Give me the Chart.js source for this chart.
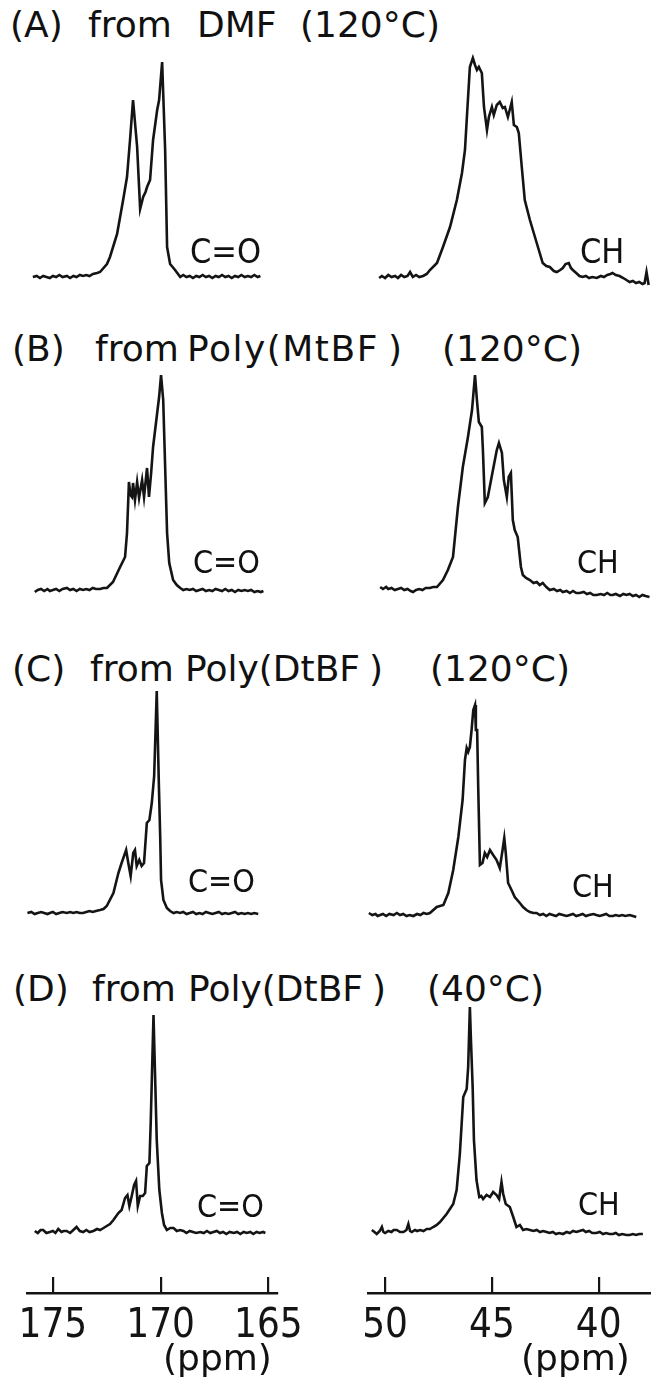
<!DOCTYPE html>
<html>
<head>
<meta charset="utf-8">
<title>13C NMR spectra, C=O and CH regions</title>
<script src="https://cdn.jsdelivr.net/npm/chart.js@4.4.1/dist/chart.umd.min.js"></script>
<style>
  html, body { margin: 0; padding: 0; background: #fff; }
  #page { position: relative; width: 651px; height: 1394px; overflow: hidden;
          font-family: "DejaVu Sans", sans-serif; color: #111; }
  canvas { position: absolute; }
  .t { position: absolute; font-size: 36px; line-height: 36px; white-space: pre; }
  .lab { position: absolute; font-family: "DejaVu Sans Condensed", "DejaVu Sans", sans-serif;
         font-size: 32px; line-height: 32px; white-space: pre; }
  .unit { position: absolute; font-size: 36px; line-height: 36px; white-space: pre; }
  .gap { margin-left: 9px; }
</style>
</head>
<body>
<div id="page">
  <!-- row titles -->
  <div class="t" style="left:10px;top:7px">(A)</div>
  <div class="t" style="left:88px;top:7px">from</div>
  <div class="t" style="left:197px;top:7px">DMF</div>
  <div class="t" style="left:300px;top:7px">(120°C)</div>

  <div class="t" style="left:12px;top:331px">(B)</div>
  <div class="t" style="left:95px;top:331px">from</div>
  <div class="t" style="left:187px;top:331px;letter-spacing:1.5px">Poly(MtBF<span class="gap">)</span></div>
  <div class="t" style="left:442px;top:331px">(120°C)</div>

  <div class="t" style="left:12px;top:651px">(C)</div>
  <div class="t" style="left:90px;top:651px">from</div>
  <div class="t" style="left:185px;top:651px">Poly(DtBF<span class="gap">)</span></div>
  <div class="t" style="left:430px;top:651px">(120°C)</div>

  <div class="t" style="left:13px;top:971px">(D)</div>
  <div class="t" style="left:92px;top:971px">from</div>
  <div class="t" style="left:188px;top:971px">Poly(DtBF<span class="gap">)</span></div>
  <div class="t" style="left:427px;top:971px">(40°C)</div>

  <!-- spectra, one chart per panel -->
  <canvas id="aCO" width="250" height="244" style="left:27px;top:45px"></canvas>
  <canvas id="aCH" width="283" height="244" style="left:368px;top:46px"></canvas>
  <canvas id="bCO" width="250" height="244" style="left:27px;top:358px"></canvas>
  <canvas id="bCH" width="283" height="244" style="left:368px;top:356px"></canvas>
  <canvas id="cCO" width="250" height="244" style="left:27px;top:681px"></canvas>
  <canvas id="cCH" width="283" height="244" style="left:368px;top:683px"></canvas>
  <canvas id="dCO" width="250" height="244" style="left:27px;top:1001px"></canvas>
  <canvas id="dCH" width="283" height="244" style="left:368px;top:1000px"></canvas>

  <!-- peak labels -->
  <div class="lab" style="left:190px;top:234px;font-size:34px;line-height:34px">C=O</div>
  <div class="lab" style="left:580px;top:234px;font-size:34px;line-height:34px">CH</div>
  <div class="lab" style="left:193px;top:546px">C=O</div>
  <div class="lab" style="left:577px;top:546px">CH</div>
  <div class="lab" style="left:188px;top:865px">C=O</div>
  <div class="lab" style="left:572px;top:870px">CH</div>
  <div class="lab" style="left:197px;top:1190px">C=O</div>
  <div class="lab" style="left:578px;top:1188px">CH</div>

  <!-- ppm axes -->
  <canvas id="axisCO" width="330" height="111" style="left:0px;top:1270px"></canvas>
  <canvas id="axisCH" width="321" height="111" style="left:330px;top:1270px"></canvas>
  <div class="unit" style="left:163px;top:1340px">(ppm)</div>
  <div class="unit" style="left:521px;top:1340px">(ppm)</div>
</div>

<script>
// ppm ranges shown in each column (the scale runs right to left)
const rangeCO = [164.6, 176.2];
const rangeCH = [37.55, 50.8];
// tick labels of the two ppm axes
const ticksCO = [175, 170, 165];
const ticksCH = [50, 45, 40];

// [ppm, intensity], intensity in arbitrary units above baseline
const traceA_CO = [[175.93,0],[175.75,1],[175.6,-1],[175.45,1],[175.3,0],[175.14,-1],[175.0,1],[174.85,0],[174.7,2],[174.55,0],[174.35,1],[174.2,-1],[174.05,1],[173.9,0],[173.75,2],[173.6,1],[173.45,2],[173.3,1],[173.14,3],[172.95,4],[172.81,5],[172.49,13],[172.35,20],[172.02,43],[171.74,77],[171.56,100],[171.42,137],[171.28,177],[171.09,130],[170.95,68],[170.81,80],[170.7,85],[170.63,90],[170.49,97],[170.35,137],[170.16,167],[170.07,177],[169.93,215],[169.79,127],[169.70,30],[169.56,13],[169.33,7],[169.09,0],[168.95,2],[168.8,0],[168.65,1],[168.5,-1],[168.35,1],[168.2,0],[168.05,2],[167.9,0],[167.75,1],[167.6,-1],[167.45,1],[167.3,0],[167.15,2],[167.0,0],[166.85,1],[166.7,-1],[166.55,1],[166.4,0],[166.25,2],[166.1,0],[165.95,1],[165.8,0],[165.65,2],[165.5,0],[165.37,1]];
const traceA_CH = [[50.28,0],[50.15,2],[50.0,0],[49.85,3],[49.7,1],[49.53,2],[49.4,0],[49.25,3],[49.1,1],[48.95,2],[48.83,6],[48.7,1],[48.55,3],[48.4,1],[48.22,2],[48.05,4],[47.90,8],[47.57,15],[47.29,31],[46.96,51],[46.64,78],[46.40,105],[46.26,128],[46.17,161],[46.03,211],[45.89,220],[45.79,213],[45.70,208],[45.61,211],[45.47,205],[45.37,171],[45.23,148],[45.14,161],[45.00,171],[44.91,163],[44.77,173],[44.63,176],[44.49,170],[44.39,171],[44.25,161],[44.07,176],[43.97,153],[43.83,151],[43.74,145],[43.60,111],[43.46,78],[43.22,58],[42.90,35],[42.62,15],[42.45,12],[42.29,11],[42.1,7],[41.96,6],[41.8,8],[41.68,10],[41.55,14],[41.40,15],[41.3,10],[41.21,8],[41.0,4],[40.9,2],[40.75,1],[40.6,2],[40.45,0],[40.3,1],[40.09,0],[39.9,2],[39.75,1],[39.6,3],[39.45,4],[39.35,5],[39.2,3],[39.02,2],[38.85,0],[38.7,-2],[38.55,-4],[38.4,-3],[38.25,-5],[38.1,-4],[37.95,-6],[37.85,-5],[37.76,6],[37.66,-7]];
const traceB_CO = [[175.84,-2],[175.7,0],[175.55,1],[175.4,-1],[175.25,1],[175.14,-1],[175.0,0],[174.85,1],[174.7,-1],[174.55,1],[174.35,2],[174.2,0],[174.05,1],[173.9,-1],[173.75,1],[173.6,0],[173.45,1],[173.3,0],[173.15,2],[173.0,1],[172.81,1],[172.65,2],[172.49,2],[172.21,8],[171.88,23],[171.65,33],[171.56,57],[171.47,108],[171.40,95],[171.33,93],[171.28,107],[171.19,90],[171.09,108],[171.00,92],[170.86,110],[170.77,93],[170.63,122],[170.54,93],[170.44,117],[170.35,143],[170.16,177],[170.07,193],[169.98,215],[169.88,190],[169.79,123],[169.70,57],[169.60,27],[169.42,10],[169.25,5],[169.09,2],[168.95,0],[168.8,1],[168.65,0],[168.5,1],[168.35,-1],[168.2,0],[168.05,1],[167.9,-1],[167.75,0],[167.6,-1],[167.45,1],[167.3,0],[167.15,-1],[167.0,1],[166.85,-1],[166.7,0],[166.55,-2],[166.4,0],[166.25,-1],[166.1,0],[165.95,-1],[165.8,0],[165.65,-2],[165.5,-1],[165.35,-2],[165.23,-1]];
const traceB_CH = [[50.23,1],[50.1,-1],[49.95,1],[49.85,-1],[49.7,0],[49.55,-2],[49.4,-1],[49.25,0],[49.1,-2],[48.95,-1],[48.8,-3],[48.69,-4],[48.55,-2],[48.4,-1],[48.25,-2],[48.1,0],[47.90,0],[47.75,1],[47.57,1],[47.29,8],[47.06,18],[46.82,31],[46.59,81],[46.36,121],[46.12,151],[45.93,178],[45.79,213],[45.70,188],[45.61,166],[45.47,161],[45.42,138],[45.33,85],[45.19,91],[44.95,118],[44.77,138],[44.67,145],[44.53,135],[44.44,108],[44.30,91],[44.21,111],[44.11,115],[44.02,68],[43.93,58],[43.79,51],[43.64,21],[43.55,13],[43.4,10],[43.22,8],[43.05,5],[42.9,6],[42.76,3],[42.62,5],[42.45,1],[42.29,-2],[42.1,-1],[41.95,-3],[41.8,-2],[41.68,-4],[41.5,-3],[41.35,-5],[41.2,-3],[41.05,-5],[40.89,-5],[40.7,-4],[40.55,-6],[40.4,-5],[40.25,-7],[40.09,-7],[39.9,-6],[39.75,-7],[39.6,-5],[39.45,-7],[39.35,-7],[39.2,-6],[39.0,-8],[38.85,-6],[38.7,-7],[38.55,-6],[38.4,-8],[38.25,-7],[38.1,-9],[37.95,-7],[37.8,-8],[37.62,-9]];
const traceC_CO = [[176.18,0],[176.0,1],[175.85,-1],[175.7,0],[175.55,1],[175.4,0],[175.25,-1],[175.14,0],[175.0,1],[174.85,-1],[174.7,0],[174.55,1],[174.35,0],[174.2,1],[174.05,0],[173.9,1],[173.75,0],[173.6,0],[173.45,1],[173.3,2],[173.15,1],[173.0,2],[172.81,3],[172.65,4],[172.50,7],[172.19,20],[171.96,40],[171.81,50],[171.60,63],[171.50,50],[171.39,37],[171.27,60],[171.19,63],[171.11,47],[170.99,53],[170.88,47],[170.77,50],[170.64,90],[170.52,93],[170.41,110],[170.30,137],[170.22,193],[170.18,222],[170.08,127],[170.02,77],[169.98,33],[169.87,13],[169.71,5],[169.56,2],[169.4,0],[169.25,1],[169.1,0],[168.95,1],[168.8,-1],[168.65,0],[168.5,1],[168.35,-1],[168.2,0],[168.05,-1],[167.9,1],[167.75,0],[167.6,-1],[167.45,0],[167.3,1],[167.15,-1],[167.0,0],[166.85,-1],[166.7,0],[166.55,1],[166.4,-1],[166.25,0],[166.1,-1],[165.95,0],[165.8,-1],[165.65,0],[165.47,-1]];
const traceC_CH = [[50.76,2],[50.6,0],[50.45,1],[50.35,-1],[50.23,0],[50.1,1],[49.95,-1],[49.8,1],[49.6,0],[49.45,2],[49.3,0],[49.15,1],[49.0,-1],[48.85,0],[48.68,-1],[48.5,1],[48.35,0],[48.2,2],[48.05,1],[47.90,2],[47.58,8],[47.27,10],[47.04,22],[46.81,45],[46.57,78],[46.37,115],[46.26,155],[46.18,167],[46.11,163],[46.03,168],[45.95,185],[45.87,205],[45.79,210],[45.75,185],[45.69,185],[45.64,128],[45.56,50],[45.44,52],[45.33,62],[45.22,58],[45.09,65],[44.94,60],[44.78,55],[44.63,47],[44.50,65],[44.42,77],[44.35,62],[44.24,32],[44.08,25],[43.93,18],[43.69,12],[43.54,8],[43.38,5],[43.22,3],[43.05,2],[42.91,2],[42.75,0],[42.6,1],[42.45,-1],[42.3,1],[42.15,0],[42.0,-1],[41.85,1],[41.67,0],[41.5,-1],[41.35,0],[41.2,1],[41.05,-1],[40.89,0],[40.75,1],[40.6,-1],[40.45,0],[40.25,1],[40.11,0],[39.95,-1],[39.8,0],[39.65,1],[39.5,-1],[39.33,-1],[39.2,0],[39.05,-1],[38.9,0],[38.75,-1],[38.55,0],[38.4,-1],[38.24,-2]];
const traceD_CO = [[175.84,2],[175.7,0],[175.57,3],[175.45,3],[175.3,0],[175.14,1],[175.0,2],[174.88,0],[174.75,4],[174.6,1],[174.5,2],[174.36,2],[174.2,0],[174.05,3],[173.9,6],[173.75,2],[173.59,1],[173.45,3],[173.3,1],[173.12,2],[172.95,4],[172.81,3],[172.65,5],[172.50,7],[172.35,9],[172.19,13],[171.96,20],[171.81,23],[171.65,35],[171.54,38],[171.45,27],[171.34,37],[171.23,48],[171.14,52],[171.06,27],[170.95,37],[170.83,37],[170.72,40],[170.64,67],[170.52,70],[170.46,110],[170.40,160],[170.33,218],[170.26,160],[170.18,93],[170.06,43],[169.94,20],[169.84,8],[169.71,3],[169.55,5],[169.40,5],[169.25,2],[169.1,3],[168.94,2],[168.8,0],[168.65,2],[168.5,1],[168.35,0],[168.16,1],[168.0,0],[167.85,2],[167.7,0],[167.55,1],[167.39,2],[167.25,0],[167.1,1],[166.95,-1],[166.8,1],[166.61,0],[166.45,1],[166.3,-1],[166.15,1],[166.0,0],[165.84,1],[165.7,-1],[165.55,1],[165.4,0],[165.25,1],[165.14,0]];
const traceD_CH = [[50.62,2],[50.5,0],[50.39,-2],[50.25,1],[50.15,5],[50.08,0],[50.0,-1],[49.85,1],[49.7,0],[49.6,2],[49.45,2],[49.3,0],[49.14,0],[49.0,2],[48.91,8],[48.83,1],[48.75,0],[48.6,2],[48.5,1],[48.36,2],[48.2,1],[48.05,3],[47.90,3],[47.75,5],[47.58,7],[47.43,10],[47.12,18],[46.81,28],[46.65,42],[46.50,78],[46.34,135],[46.18,143],[46.11,165],[46.03,225],[45.98,192],[45.90,145],[45.84,92],[45.72,52],[45.59,35],[45.50,36],[45.41,33],[45.25,37],[45.09,35],[44.94,40],[44.78,37],[44.66,33],[44.55,50],[44.47,38],[44.35,28],[44.16,25],[44.00,15],[43.85,5],[43.69,7],[43.54,2],[43.38,3],[43.22,2],[43.05,1],[42.9,2],[42.75,0],[42.6,1],[42.44,0],[42.3,-1],[42.15,0],[42.0,-2],[41.85,-1],[41.67,-2],[41.5,0],[41.35,-1],[41.2,1],[41.04,0],[40.9,1],[40.73,2],[40.6,0],[40.45,1],[40.3,-1],[40.11,-1],[39.95,0],[39.8,-2],[39.65,-1],[39.5,-2],[39.33,-2],[39.2,-1],[39.05,-3],[38.9,-2],[38.7,-3],[38.55,-3],[38.4,-2],[38.25,-3],[38.1,-2],[37.93,-2]];

const INK = "#141414";
const FONT_TICK = '"Liberation Sans Narrow", "DejaVu Sans Condensed", "DejaVu Sans", sans-serif';

// one spectrum panel: no axes, the trace fills the whole canvas
function drawTrace(id, points, range) {
  new Chart(document.getElementById(id), {
    type: "line",
    data: {
      datasets: [{ data: points, borderColor: INK, borderWidth: 2.6, pointRadius: 0, tension: 0, fill: false }]
    },
    options: {
      responsive: false,
      animation: false,
      events: [],
      layout: { padding: 0 },
      plugins: { legend: { display: false }, tooltip: { enabled: false } },
      scales: {
        x: { type: "linear", reverse: true, min: range[0], max: range[1], display: false },
        y: { type: "linear", min: -12, max: 232, display: false }
      }
    }
  });
}

// the ppm scale under each column, ticks pointing up from the axis line
// (the chart area is only 16px tall, so its grid lines act as the tick marks)
function drawAxis(id, ticksList, range, pad) {
  new Chart(document.getElementById(id), {
    type: "line",
    data: { datasets: [] },
    options: {
      responsive: false,
      animation: false,
      events: [],
      layout: { autoPadding: false, padding: pad },
      plugins: { legend: { display: false }, tooltip: { enabled: false } },
      scales: {
        x: {
          type: "linear", position: "bottom", reverse: true, min: range[0], max: range[1],
          afterBuildTicks: s => { s.ticks = ticksList.map(v => ({ value: v })); },
          afterFit: s => { s.height = 88; },
          grid: { drawOnChartArea: true, drawTicks: false, color: INK, lineWidth: 2.2 },
          border: { display: true, color: INK, width: 2.6 },
          ticks: { color: INK, padding: 10, maxRotation: 0, autoSkip: false, font: { family: FONT_TICK, size: 40 } }
        },
        y: { display: false, min: 0, max: 1 }
      }
    }
  });
}

drawTrace("aCO", traceA_CO, rangeCO);
drawTrace("aCH", traceA_CH, rangeCH);
drawTrace("bCO", traceB_CO, rangeCO);
drawTrace("bCH", traceB_CH, rangeCH);
drawTrace("cCO", traceC_CO, rangeCO);
drawTrace("cCH", traceC_CH, rangeCH);
drawTrace("dCO", traceD_CO, rangeCO);
drawTrace("dCH", traceD_CH, rangeCH);

drawAxis("axisCO", ticksCO, rangeCO, { left: 27, right: 53, top: 7, bottom: 0 });
drawAxis("axisCH", ticksCH, rangeCH, { left: 38, right: 0, top: 7, bottom: 0 });
</script>
</body>
</html>
